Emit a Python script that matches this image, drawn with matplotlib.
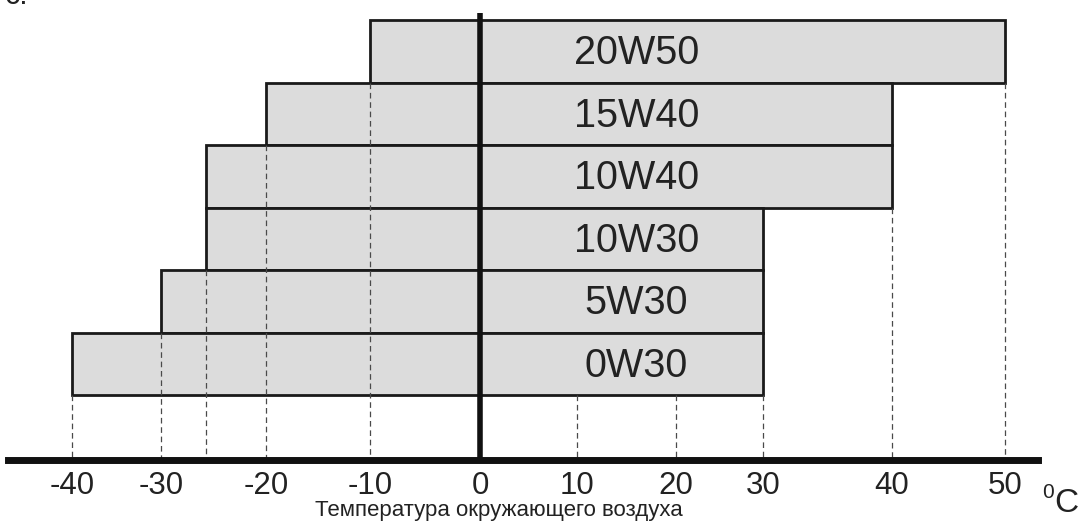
import matplotlib
matplotlib.use('Agg')
import matplotlib.pyplot as plt
import numpy as np

plt.rcParams['font.family'] = ['Liberation Sans', 'DejaVu Sans']

# ---------------- data
oils = ['20W50', '15W40', '10W40', '10W30', '5W30', '0W30']
t_min = [-10, -20, -25, -25, -30, -40]
t_max = [50, 40, 40, 30, 30, 30]
ticks = [-40, -30, -20, -10, 0, 10, 20, 30, 40, 50]

# ---------------- the drawing's temperature axis is not uniform -> piecewise scale
knot_t = np.array([-40, -30, -25, -20, -10, 0, 10, 20, 30, 40, 50], float)
knot_p = np.array([72, 161, 206, 266, 370, 480, 577, 676, 763, 892, 1005], float)

def _pw(v, xs, ys):
	v = np.asarray(v, float)
	out = np.interp(v, xs, ys)
	s0 = (ys[1] - ys[0]) / (xs[1] - xs[0])
	s1 = (ys[-1] - ys[-2]) / (xs[-1] - xs[-2])
	out = np.where(v < xs[0], ys[0] + (v - xs[0]) * s0, out)
	out = np.where(v > xs[-1], ys[-1] + (v - xs[-1]) * s1, out)
	return out

fwd = lambda t: _pw(t, knot_t, knot_p)
inv = lambda p: _pw(p, knot_p, knot_t)

#---------------
W, H = 1079, 529
fig = plt.figure(figsize=(W / 100, H / 100), dpi=100)
ax = fig.add_axes([8 / W, 69 / H, 1030 / W, 460 / H])
ax.set_xscale('function', functions=(fwd, inv))

y = np.arange(len(oils))
y_axis = 5.5 + 65 / 62.5

ax.barh(y, np.array(t_max) - np.array(t_min), left=t_min, height=1.0,
        color='#dcdcdc', edgecolor='#1a1a1a', linewidth=2.0, zorder=2)

for i, name in enumerate(oils):
	ax.text(16, i + 0.21, name, ha='center', va='baseline', fontsize=28.5,
	        color='#222222', zorder=5)

# dashed guides from each bar edge down to the axis
guides = sorted(set(ticks + t_min + t_max) - {0})
for v in guides:
	idx = [i for i in range(len(oils)) if t_min[i] == v or t_max[i] == v]
	top = (max(idx) if idx else len(oils) - 1) + 0.5
	ax.vlines(v, top, y_axis, colors='#4a4a4a', linewidth=0.9,
	          linestyles=(0, (4.5, 3)), zorder=3)

ax.plot([0, 0], [-0.5 - 7 / 62.5, y_axis], color='#111111', lw=4,
        solid_capstyle='butt', zorder=4)

ax.set_xlim(float(inv(8)), float(inv(1038)))
ax.set_ylim(y_axis, -0.5 - 20 / 62.5)

for s in ['top', 'left', 'right']:
	ax.spines[s].set_visible(False)
ax.spines['bottom'].set_linewidth(5)
ax.spines['bottom'].set_color('#111111')
ax.spines['bottom'].set_zorder(6)

ax.set_xticks(ticks)
ax.set_xticklabels([str(t) for t in ticks], fontsize=22.5, color='#222222')
ax.tick_params(axis='x', length=0, pad=8)
ax.set_yticks([])
ax.minorticks_off()

fig.text(498.5 / W, 1 - 516 / H, 'Температура окружающего воздуха',
         ha='center', va='baseline', fontsize=16, color='#222222')
fig.text(1042 / W, 1 - 498 / H, '0', ha='left', va='baseline', fontsize=15,
         color='#222222')
fig.text(1054 / W, 1 - 512 / H, 'C', ha='left', va='baseline', fontsize=24,
         color='#222222')
fig.text(5 / W, 1 - 4 / H, 'с.', ha='left', va='baseline', fontsize=22,
         color='#222222')

fig.savefig('out.png', dpi=100, facecolor='white')
